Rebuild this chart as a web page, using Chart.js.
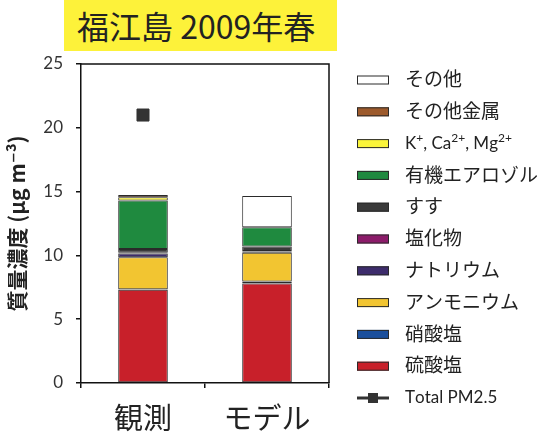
<!DOCTYPE html>
<html><head><meta charset="utf-8">
<script src="https://cdn.jsdelivr.net/npm/chart.js@4"></script>
<style>
html,body{margin:0;padding:0;background:#fff;}
#wrap{position:relative;width:539px;height:434px;}
#title{position:absolute;left:64px;top:0;width:273px;height:51px;background:#fdf23a;
 font-family:"Noto Sans CJK JP",sans-serif;font-size:32px;line-height:50px;color:#222;
 box-sizing:border-box;padding-left:13px;white-space:nowrap;}
canvas{position:absolute;left:0;top:0;}
</style></head>
<body><div id="wrap"><canvas id="c" width="539" height="434"></canvas><div id="title">福江島 2009年春</div></div>
<script>
const categories = ['観測', 'モデル'];
const sulfate     = [7.3, 7.8];     // 硫酸塩
const nitrate     = [0.05, 0.15];   // 硝酸塩
const ammonium    = [2.5, 2.25];    // アンモニウム
const sodium      = [0.3, 0.1];     // ナトリウム
const chloride    = [0.05, 0.05];   // 塩化物
const soot        = [0.3, 0.35];    // すす
const organic     = [3.8, 1.5];     // 有機エアロゾル
const cations     = [0.25, null];   // K+, Ca2+, Mg2+
const otherMetals = [0.18, null];   // その他金属
const other       = [null, 2.45];   // その他
const totalPM25   = [21.0, null];   // Total PM2.5
const yTicks = [0, 5, 10, 15, 20, 25];

const barSeries = [
  {label:'硫酸塩', data:sulfate, color:'#c8202a'},
  {label:'硝酸塩', data:nitrate, color:'#1b4f9c'},
  {label:'アンモニウム', data:ammonium, color:'#f2c531'},
  {label:'ナトリウム', data:sodium, color:'#3d2c6c'},
  {label:'塩化物', data:chloride, color:'#8c1c6a'},
  {label:'すす', data:soot, color:'#3a3a3a'},
  {label:'有機エアロゾル', data:organic, color:'#1f8a3f'},
  {label:'K⁺, Ca²⁺, Mg²⁺', data:cations, color:'#fbf53a'},
  {label:'その他金属', data:otherMetals, color:'#9d5a2c'},
  {label:'その他', data:other, color:'#ffffff'}
];

const datasets = barSeries.map(s => ({
  type:'bar', label:s.label, data:s.data, backgroundColor:s.color,
  borderColor:'#2a2a2a', borderWidth:1, borderSkipped:false, order:1,
  barPercentage:0.4, categoryPercentage:1.0
}));
datasets.push({
  type:'line', label:'Total PM2.5', data:totalPM25, stack:'total', order:0,
  showLine:false, pointStyle:'rect', pointRadius:8.5, pointHoverRadius:8.5,
  backgroundColor:'#333', borderColor:'#333', borderWidth:1
});

const LFONT = 'Lato, "Noto Sans CJK JP", "DejaVu Sans", sans-serif';
const SUP = {'⁺':'+', '²':'2', '⁻':'-', '³':'3'};

function drawRich(ctx, text, x, y, size) {
  let cx = x;
  for (const ch of text) {
    if (SUP[ch]) {
      ctx.font = Math.round(size * 0.7) + 'px ' + LFONT;
      ctx.fillText(SUP[ch], cx, y - size * 0.33);
      cx += ctx.measureText(SUP[ch]).width;
    } else {
      ctx.font = size + 'px ' + LFONT;
      ctx.fillText(ch, cx, y);
      cx += ctx.measureText(ch).width;
    }
  }
}

const framePlugin = {
  id:'frameLegend',
  afterDraw(chart){
    const ctx = chart.ctx, a = chart.chartArea;
    ctx.save();
    ctx.strokeStyle = '#111'; ctx.lineWidth = 1.5;
    ctx.beginPath();
    ctx.moveTo(a.left, a.top); ctx.lineTo(a.right, a.top); ctx.lineTo(a.right, a.bottom);
    ctx.stroke();
    // legend
    const ds = chart.data.datasets;
    const items = [];
    for (let i = barSeries.length - 1; i >= 0; i--) items.push(ds[i]);
    items.push(ds[ds.length - 1]);
    const x0 = 357, bw = 32, bh = 9, tx = 405, y0 = 80, step = 31.8;
    items.forEach((d, k) => {
      const y = y0 + k * step;
      if (d.type === 'bar') {
        ctx.fillStyle = d.backgroundColor;
        ctx.fillRect(x0, y - bh/2, bw, bh);
        ctx.strokeStyle = '#2a2a2a'; ctx.lineWidth = 1;
        ctx.strokeRect(x0 + 0.5, y - bh/2 + 0.5, bw - 1, bh - 1);
      } else {
        ctx.strokeStyle = '#333'; ctx.lineWidth = 3;
        ctx.beginPath(); ctx.moveTo(x0, y); ctx.lineTo(x0 + bw, y); ctx.stroke();
        ctx.fillStyle = '#333';
        ctx.fillRect(x0 + bw/2 - 5, y - 5, 10, 10);
      }
      ctx.fillStyle = '#222';
      ctx.textBaseline = 'middle'; ctx.textAlign = 'left';
      const cjk = /[^\x00-\x7f⁺²⁻³]/.test(d.label);
      drawRich(ctx, d.label, tx, y, cjk ? 19 : 17);
    });
    ctx.restore();
  }
};

new Chart(document.getElementById('c'), {
  data:{labels:categories, datasets},
  options:{
    responsive:false, animation:false, devicePixelRatio:1,
    layout:{padding:{left:0, top:64, right:210, bottom:0}},
    plugins:{legend:{display:false}, tooltip:{enabled:false}, title:{display:false}},
    scales:{
      x:{
        stacked:true, offset:true,
        grid:{offset:true, drawOnChartArea:false, drawTicks:true, tickLength:5, color:'#111', lineWidth:1.5},
        border:{display:true, color:'#111', width:1.5},
        ticks:{font:{family:'"Noto Sans CJK JP", sans-serif', size:29}, color:'#222', padding:13},
        afterFit(s){ s.height = 51; }
      },
      y:{
        stacked:true, min:0, max:25,
        afterBuildTicks(s){ s.ticks = yTicks.map(v => ({value:v})); },
        grid:{drawOnChartArea:false, drawTicks:true, tickLength:5, color:'#111', lineWidth:1.5},
        border:{display:true, color:'#111', width:1.5},
        ticks:{font:{family:LFONT, size:17}, color:'#333', padding:13},
        title:{display:true, text:'質量濃度 (μg m⁻³)', font:{family:'"Noto Sans CJK JP", "DejaVu Sans", sans-serif', size:21, weight:'bold'}, color:'#222', padding:{top:4, bottom:0}},
        afterFit(s){ s.width = 81; }
      }
    }
  },
  plugins:[framePlugin]
});
</script>
</body></html>
